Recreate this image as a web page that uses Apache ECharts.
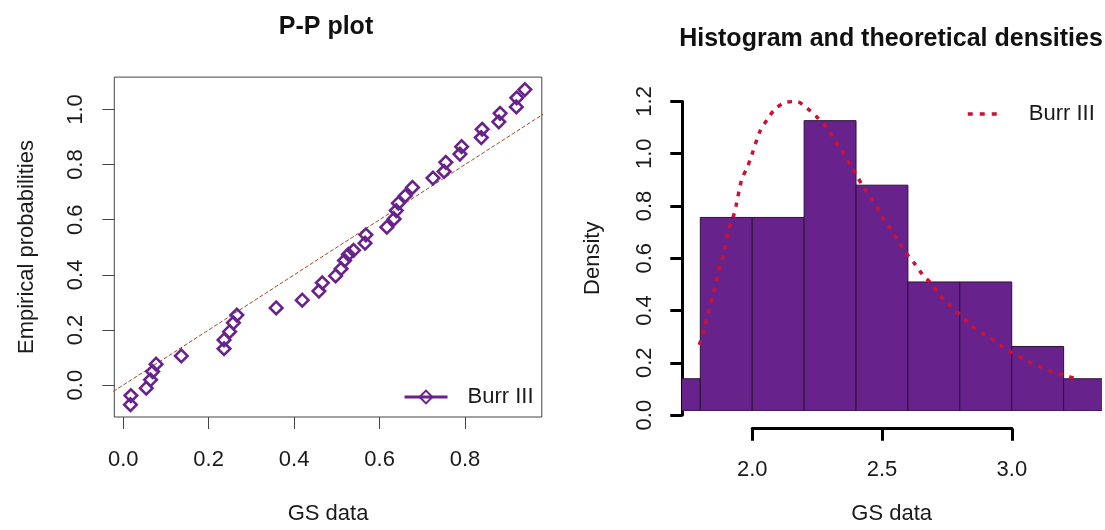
<!DOCTYPE html>
<html>
<head>
<meta charset="utf-8">
<script src="https://cdn.jsdelivr.net/npm/echarts@6/dist/echarts.min.js"></script>
<style>
  html, body { margin: 0; padding: 0; background: #fff; }
  #chart { width: 1105px; height: 530px; }
</style>
</head>
<body>
<div id="chart"></div>
<script>
// P-P plot points (theoretical vs empirical probabilities)
const ppX = [0.017, 0.018, 0.054, 0.064, 0.069, 0.077, 0.136, 0.236, 0.236, 0.249, 0.258, 0.266, 0.358, 0.419,
  0.458, 0.466, 0.497, 0.510, 0.518, 0.527, 0.539, 0.566, 0.568, 0.617, 0.634, 0.639, 0.644, 0.660, 0.677,
  0.725, 0.751, 0.755, 0.788, 0.792, 0.838, 0.840, 0.879, 0.882, 0.920, 0.921, 0.940];
const ppY = [-0.071, -0.038, -0.011, 0.019, 0.049, 0.076, 0.106, 0.132, 0.164, 0.194, 0.226, 0.254, 0.280, 0.308,
  0.341, 0.371, 0.396, 0.422, 0.452, 0.474, 0.489, 0.515, 0.545, 0.573, 0.603, 0.633, 0.660, 0.687, 0.717,
  0.751, 0.775, 0.808, 0.838, 0.865, 0.898, 0.928, 0.955, 0.986, 1.009, 1.042, 1.072];
const ppTicksX = [0, 0.2, 0.4, 0.6, 0.8];
const ppTicksY = [0, 0.2, 0.4, 0.6, 0.8, 1.0];
const refLine = [[-0.2, -0.2], [1.2, 1.2]];

// histogram
const binEdges = [1.6, 1.8, 2.0, 2.2, 2.4, 2.6, 2.8, 3.0, 3.2, 3.4];
const binDensity = [0.125, 0.75, 0.75, 1.125, 0.875, 0.5, 0.5, 0.25, 0.125];

// fitted Burr III density curve
const curveX = [1.796, 1.812, 1.835, 1.850, 1.873, 1.889, 1.908, 1.925, 1.938, 1.960, 1.981, 1.998, 2.030, 2.060,
  2.088, 2.126, 2.171, 2.210, 2.249, 2.293, 2.319, 2.351, 2.377, 2.403, 2.428, 2.460, 2.486, 2.510, 2.538, 2.566,
  2.593, 2.625, 2.656, 2.689, 2.724, 2.760, 2.801, 2.843, 2.888, 2.933, 2.974, 3.017, 3.071, 3.116, 3.163, 3.208, 3.257];
const curveY = [0.256, 0.306, 0.402, 0.453, 0.552, 0.606, 0.702, 0.746, 0.797, 0.899, 0.944, 0.991, 1.084, 1.132,
  1.170, 1.195, 1.199, 1.174, 1.139, 1.091, 1.046, 1.001, 0.953, 0.912, 0.868, 0.823, 0.782, 0.738, 0.698, 0.653,
  0.612, 0.572, 0.529, 0.494, 0.447, 0.411, 0.374, 0.332, 0.300, 0.272, 0.243, 0.217, 0.188, 0.169, 0.150, 0.137, 0.122];

const FONT = 'Liberation Sans, Arial, sans-serif';
const purple = '#68228B';
const red = '#cc1133';
const txt = { fontFamily: FONT, fontSize: 22, color: '#1a1a1a' };

const histData = binDensity.map((d, i) => [binEdges[i], binEdges[i + 1], d]);

const chart = echarts.init(document.getElementById('chart'), null, { renderer: 'canvas' });

const option = {
  animation: false,
  backgroundColor: '#fff',
  title: [
    { text: 'P-P plot', left: 326, top: 15, textAlign: 'center', padding: 0,
      textStyle: { fontFamily: FONT, fontSize: 25, fontWeight: 'bold', color: '#111' } },
    { text: 'Histogram and theoretical densities', left: 891, top: 27, textAlign: 'center', padding: 0,
      textStyle: { fontFamily: FONT, fontSize: 25, fontWeight: 'bold', color: '#111' } }
  ],
  legend: [
    { data: ['pp'], formatter: 'Burr III', left: 403, top: 386, padding: 0,
      itemWidth: 43, itemHeight: 16,
      lineStyle: { opacity: 1, width: 3, color: purple },
      textStyle: Object.assign({}, txt, { padding: [0, 0, 0, 15] }) },
    { data: ['dens'], formatter: 'Burr III', left: 966, top: 103, padding: 0,
      itemWidth: 31, itemHeight: 12,
      itemStyle: { opacity: 0 },
      lineStyle: { opacity: 1, width: 3.5, color: red, type: [5, 7], cap: 'butt' },
      textStyle: Object.assign({}, txt, { padding: [0, 0, 0, 25] }) }
  ],
  grid: [
    // P-P plot box
    { left: 114.3, top: 77.1, width: 427.5, height: 346.2, show: true, borderColor: '#444', borderWidth: 1,
      backgroundColor: 'transparent' },
    // histogram plot region
    { left: 682.3, top: 88.4, width: 418.7, height: 326.7 },
    // density axis
    { left: 682.3, top: 101.4, width: 10, height: 313.7 },
    // GS data axis (histogram)
    { left: 752.2, top: 427.7, width: 259.7, height: 1 }
  ],
  xAxis: [
    { gridIndex: 0, type: 'value', min: -0.0208, max: 0.9796,
      name: 'GS data', nameLocation: 'middle', nameGap: 86, nameTextStyle: txt,
      axisLine: { show: false, onZero: false }, splitLine: { show: false },
      axisTick: { customValues: ppTicksX, length: 12, lineStyle: { color: '#444', width: 1 } },
      axisLabel: { customValues: ppTicksX, margin: 32, formatter: v => v.toFixed(1), ...txt } },
    { gridIndex: 1, type: 'value', min: 1.7306, max: 3.344,
      name: 'GS data', nameLocation: 'middle', nameGap: 92, nameTextStyle: txt,
      axisLine: { show: false, onZero: false }, splitLine: { show: false },
      axisTick: { show: false }, axisLabel: { show: false } },
    { gridIndex: 2, type: 'value', show: false },
    { gridIndex: 3, type: 'value', min: 2, max: 3, interval: 0.5,
      axisLine: { onZero: false, lineStyle: { color: '#000', width: 3 } }, splitLine: { show: false },
      axisTick: { length: 12, lineStyle: { color: '#000', width: 3 } },
      axisLabel: { margin: 30, formatter: v => v.toFixed(1), ...txt } }
  ],
  yAxis: [
    { gridIndex: 0, type: 'value', min: -0.1157, max: 1.1173,
      name: 'Empirical probabilities', nameLocation: 'middle', nameGap: 76, nameRotate: 90, nameTextStyle: txt,
      axisLine: { show: false, onZero: false }, splitLine: { show: false },
      axisTick: { customValues: ppTicksY, length: 12, lineStyle: { color: '#444', width: 1 } },
      axisLabel: { customValues: ppTicksY, margin: 27, rotate: 90, formatter: v => v.toFixed(1), ...txt } },
    { gridIndex: 1, type: 'value', min: 0, max: 1.25, show: false },
    { gridIndex: 2, type: 'value', min: 0, max: 1.2, interval: 0.2,
      name: 'Density', nameLocation: 'middle', nameGap: 78, nameRotate: 90, nameTextStyle: txt,
      axisLine: { show: true, onZero: false, lineStyle: { color: '#000', width: 3 } }, splitLine: { show: false },
      axisTick: { show: true, length: 12, lineStyle: { color: '#000', width: 3 } },
      axisLabel: { margin: 26, rotate: 90, formatter: v => v.toFixed(1), ...txt } },
    { gridIndex: 3, type: 'value', show: false }
  ],
  series: [
    { name: 'ref', type: 'line', xAxisIndex: 0, yAxisIndex: 0, data: refLine, clip: true,
      symbol: 'none', silent: true, z: 1,
      lineStyle: { color: '#9c4a2e', width: 1, type: [4, 2] } },
    { name: 'pp', type: 'line', xAxisIndex: 0, yAxisIndex: 0,
      data: ppX.map((x, i) => [x, ppY[i]]),
      symbol: 'diamond', symbolSize: 12.5, showSymbol: true, z: 3,
      lineStyle: { opacity: 0, width: 0 },
      itemStyle: { color: 'rgba(0,0,0,0)', borderColor: purple, borderWidth: 2.6 } },
    { name: 'hist', type: 'custom', xAxisIndex: 1, yAxisIndex: 1, data: histData, clip: true, z: 2,
      renderItem: (params, api) => {
        const p0 = api.coord([api.value(0), api.value(2)]);
        const p1 = api.coord([api.value(1), 0]);
        return {
          type: 'rect',
          shape: { x: p0[0], y: p0[1], width: p1[0] - p0[0], height: p1[1] - p0[1] },
          style: { fill: purple, stroke: '#2a1535', lineWidth: 1 }
        };
      } },
    { name: 'dens', type: 'line', xAxisIndex: 1, yAxisIndex: 1, z: 4,
      data: curveX.map((x, i) => [x, curveY[i]]), smooth: 0.3, symbol: 'none', clip: true,
      lineStyle: { color: red, width: 3.5, type: [4.5, 6.5], cap: 'butt' } }
  ]
};

chart.setOption(option);
</script>
</body>
</html>
